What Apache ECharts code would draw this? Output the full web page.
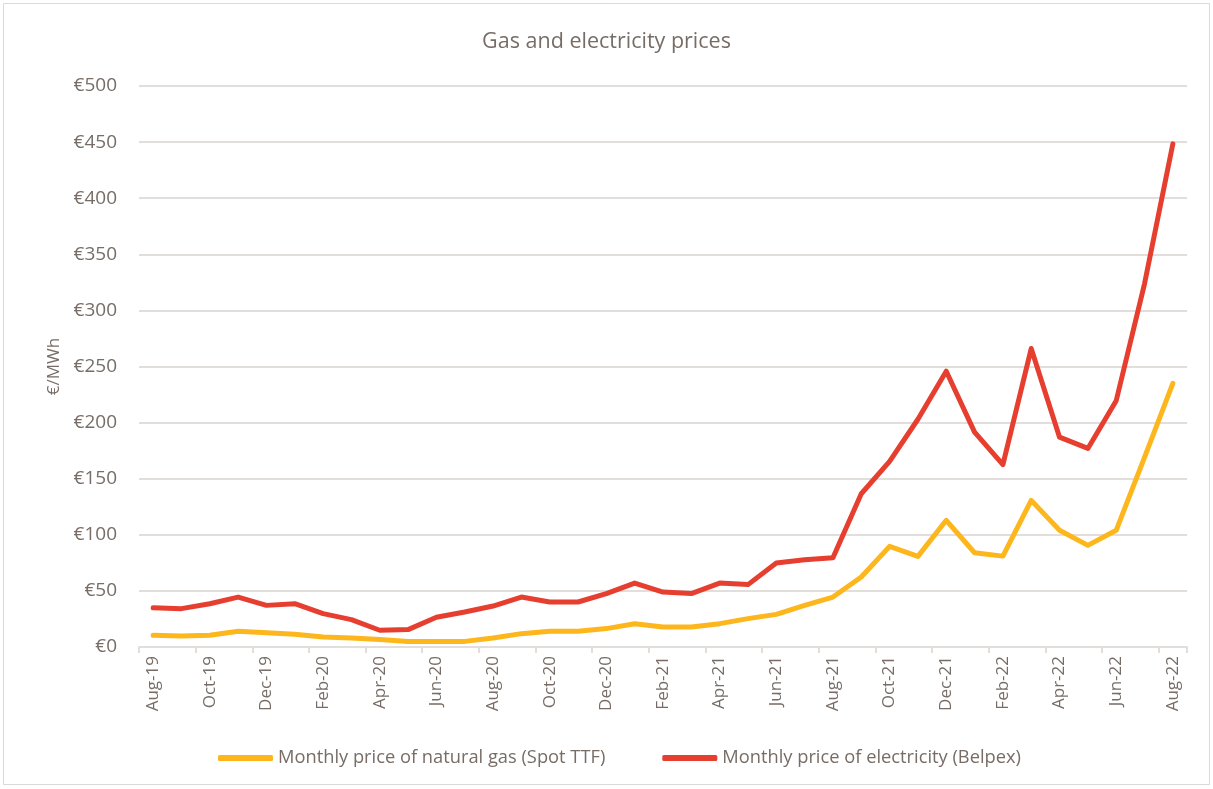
<!DOCTYPE html>
<html>
<head>
<meta charset="utf-8">
<script src="https://cdn.jsdelivr.net/npm/echarts@6/dist/echarts.min.js"></script>
<style>
  html, body { margin: 0; padding: 0; background: #fff; }
  #chart { width: 1213px; height: 789px; }
</style>
</head>
<body>
<div id="chart"></div>
<script>
// months Aug-19 .. Aug-22
const months = [
  'Aug-19', 'Sep-19', 'Oct-19', 'Nov-19', 'Dec-19', 'Jan-20', 'Feb-20', 'Mar-20', 'Apr-20', 'May-20', 'Jun-20', 'Jul-20',
  'Aug-20', 'Sep-20', 'Oct-20', 'Nov-20', 'Dec-20', 'Jan-21', 'Feb-21', 'Mar-21', 'Apr-21', 'May-21', 'Jun-21', 'Jul-21',
  'Aug-21', 'Sep-21', 'Oct-21', 'Nov-21', 'Dec-21', 'Jan-22', 'Feb-22', 'Mar-22', 'Apr-22', 'May-22', 'Jun-22', 'Jul-22',
  'Aug-22'
]
// €/MWh
const gasPrice = [
  10.4, 9.8, 10.4, 14, 12.8, 11.3, 8.9, 8, 6.6, 4.8, 5, 5,
  8, 11.9, 14, 14, 16.4, 20.8, 17.8, 17.8, 20.8, 25.3, 29.1, 37.1,
  44.5, 62.4, 89.7, 80.8, 112.9, 84, 81, 130.7, 104, 90.6, 104, 169,
  235
]
const powerPrice = [
  35, 34.2, 38.6, 44.5, 37.1, 38.6, 29.7, 24.4, 14.9, 15.5, 26.5, 31.2,
  36.5, 44.5, 40.1, 40.1, 47.6, 57, 49, 47.6, 57, 55.6, 74.8, 77.8,
  79.5, 136.6, 165.4, 203, 245.8, 191.5, 162.5, 266, 187, 177, 219.5, 323.7,
  448.4
]
const seriesNames = ['Monthly price of natural gas (Spot TTF)', 'Monthly price of electricity (Belpex)']

const textColor = '#776d66'
const gridColor = '#e2dedb'
const font = 'Open Sans'

const chart = echarts.init(document.getElementById('chart'))
chart.setOption({
  backgroundColor: '#fff',
  animation: false,
  textStyle: { fontFamily: font },
  title: {
    text: 'Gas and electricity prices',
    left: 'center',
    top: 26,
    textStyle: { fontSize: 21.5, fontWeight: 'normal', color: textColor, fontFamily: font }
  },
  graphic: [{
    type: 'rect',
    shape: { x: 3.5, y: 3.5, width: 1206, height: 781 },
    style: { fill: 'none', stroke: '#d9d9d9', lineWidth: 1 },
    silent: true
  }],
  legend: {
    bottom: 17,
    left: 213,
    icon: 'roundRect',
    itemWidth: 55,
    itemHeight: 6,
    itemGap: 57,
    textStyle: { fontSize: 18.3, color: textColor, fontFamily: font }
  },
  grid: { left: 139, right: 26, top: 86, bottom: 142 },
  xAxis: {
    type: 'category',
    data: months,
    boundaryGap: true,
    axisLine: { lineStyle: { color: gridColor, width: 2 } },
    axisTick: { show: true, interval: 1, length: 6, lineStyle: { color: gridColor, width: 2 } },
    axisLabel: { interval: 1, rotate: 90, fontSize: 17, color: textColor, margin: 9, fontFamily: font }
  },
  yAxis: {
    type: 'value',
    min: 0,
    max: 500,
    interval: 50,
    name: '€/MWh',
    nameLocation: 'middle',
    nameRotate: 90,
    nameGap: 76,
    nameTextStyle: { fontSize: 17, color: textColor, fontFamily: font },
    axisLine: { show: false },
    axisTick: { show: false },
    splitLine: { lineStyle: { color: gridColor, width: 2 } },
    axisLabel: { formatter: '€{value}', fontSize: 19, color: textColor, margin: 22, fontFamily: font }
  },
  series: [
    {
      name: seriesNames[0],
      type: 'line',
      data: gasPrice,
      color: '#fdb71c',
      symbol: 'none',
      lineStyle: { width: 5, cap: 'round', join: 'round' }
    },
    {
      name: seriesNames[1],
      type: 'line',
      data: powerPrice,
      color: '#e63f30',
      symbol: 'none',
      lineStyle: { width: 5, cap: 'round', join: 'round' }
    }
  ]
})
</script>
</body>
</html>
